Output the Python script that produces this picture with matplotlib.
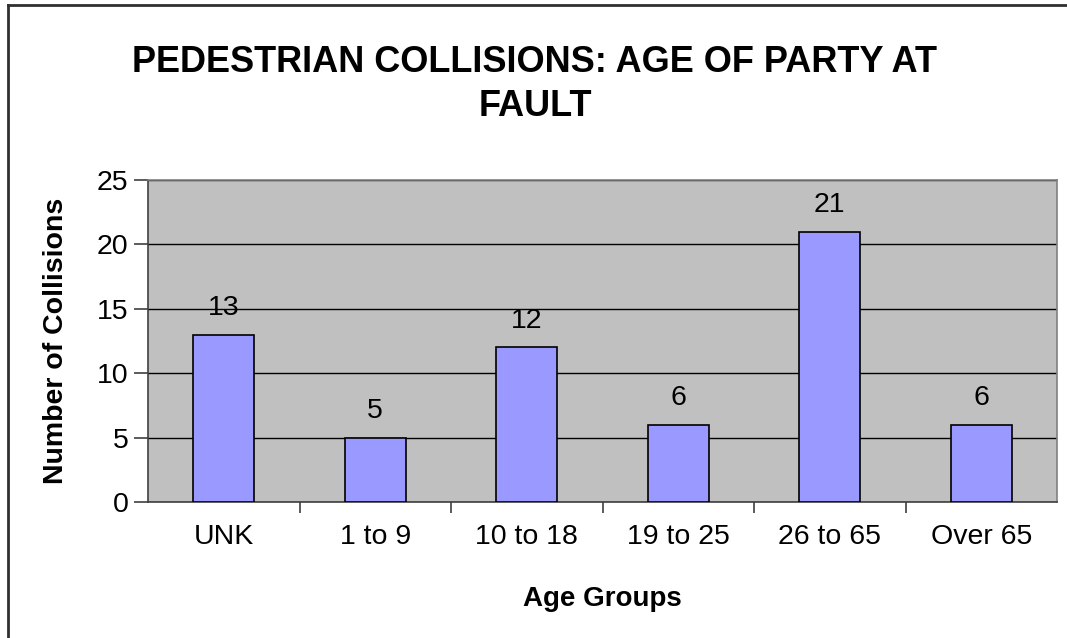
import matplotlib
matplotlib.use("Agg")
import matplotlib.pyplot as plt
from matplotlib.lines import Line2D
from matplotlib.ticker import FixedLocator

categories = ["UNK", "1 to 9", "10 to 18", "19 to 25", "26 to 65", "Over 65"]
values = [13, 5, 12, 6, 21, 6]
yticks = [0, 5, 10, 15, 20, 25]

plt.rcParams['font.family'] = ['Liberation Sans', 'DejaVu Sans']

fig = plt.figure(figsize=(10.67, 6.38), dpi=100)
fig.patch.set_facecolor("white")
ax = fig.add_axes([148/1067, 1-502/638, (1057-148)/1067, (502-180)/638])
ax.set_facecolor("#C0C0C0")

x = list(range(len(categories)))
ax.bar(x, values, width=0.4, color="#9999FF", edgecolor="black", linewidth=1.2, zorder=3)

for xi, v in zip(x, values):
    ax.annotate(str(v), (xi, v), xytext=(0, 10), textcoords="offset points",
                ha="center", va="bottom", fontsize=20.5, color="black")

ax.set_xlim(-0.5, len(categories) - 0.5)
ax.set_ylim(0, 25)
ax.set_yticks(yticks)
ax.set_yticklabels([str(t) for t in yticks], fontsize=20.5)
ax.yaxis.grid(True, color="black", linewidth=1.0, zorder=1)
ax.set_axisbelow(True)

ax.set_xticks(x)
ax.set_xticklabels(categories, fontsize=20.5)
ax.tick_params(axis="x", which="major", length=0, pad=16)
ax.xaxis.set_minor_locator(FixedLocator([i + 0.5 for i in range(len(categories) - 1)]))
ax.tick_params(axis="x", which="minor", length=8, color="#404040", width=1.2, direction="out")
ax.tick_params(axis="y", length=10, color="#404040", width=1.2, direction="out", pad=4)

for s in ["top", "right"]:
    ax.spines[s].set_color("#808080")
    ax.spines[s].set_linewidth(1.2)
for s in ["left", "bottom"]:
    ax.spines[s].set_color("#404040")
    ax.spines[s].set_linewidth(1.2)

ax.set_xlabel("Age Groups", fontsize=20, fontweight="bold", labelpad=26)
ax.set_ylabel("Number of Collisions", fontsize=20.5, fontweight="bold", labelpad=20)

fig.text(535/1067, 1-62/638, "PEDESTRIAN COLLISIONS: AGE OF PARTY AT", ha="center", va="center",
         fontsize=26, fontweight="bold")
fig.text(535/1067, 1-107/638, "FAULT", ha="center", va="center", fontsize=26, fontweight="bold")

bx = 7.5/1067
by = 1 - 4.5/638
fig.add_artist(Line2D([bx, bx], [0, by], transform=fig.transFigure, color="#303030", linewidth=2))
fig.add_artist(Line2D([bx, 1], [by, by], transform=fig.transFigure, color="#303030", linewidth=2))

fig.savefig("out.png", dpi=100)
